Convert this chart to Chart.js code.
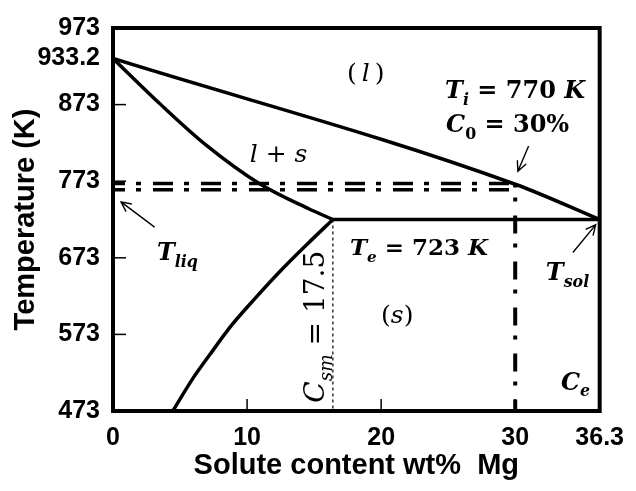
<!DOCTYPE html>
<html><head><meta charset="utf-8">
<script src="https://cdn.jsdelivr.net/npm/chart.js@4/dist/chart.umd.min.js"></script>
<style>html,body{margin:0;padding:0;background:#fff}</style>
</head><body>
<canvas id="c" width="636" height="491"></canvas>
<script>
// ---- data (wt% Mg, temperature K) ----
const xTickValues = [0, 10, 20, 30, 36.3];
const yTickValues = [473, 573, 673, 773, 873, 933.2, 973];
const liquidus = [[0, 933.2], [30, 769], [36.3, 723]];
const solidus = [[0, 933.2], [3.5, 874], [6.95, 820], [10.9, 770], [14.6, 737], [16.4, 723]];
const solvus = [[4.46, 473], [5.9, 514], [7.2, 546], [8.85, 585], [10.55, 619], [12.5, 656], [14.44, 690], [16.4, 723]];
const eutectic = [[16.4, 723], [36.3, 723]];
const csmLine = [[16.4, 723], [16.4, 473]];
const tiLine = [[0, 770], [30, 770]];
const tliqLine = [[0, 762], [30, 762]];
const c0Line = [[30, 770], [30, 473]];

// annotation texts (positions in data units)
const notes = [
  {x: 18.85, y: 916, segs: [['(', 'n'], ['\u2009l\u2009', 'v'], [')', 'n']], size: 25, bold: false, align: 'center'},
  {x: 24.77, y: 893, segs: [['T', 'v'], ['i', 's'], [' = ', 'n'], ['770', 'n'], [' ', 'n'], ['K', 'v']], size: 24, bold: true, align: 'left'},
  {x: 24.84, y: 848, segs: [['C', 'v'], ['0', 'sn'], [' = ', 'n'], ['30%', 'n']], size: 24, bold: true, align: 'left'},
  {x: 12.35, y: 810, segs: [['l', 'v'], [' + ', 'n'], ['s', 'v']], size: 25, bold: false, align: 'center'},
  {x: 17.67, y: 687, segs: [['T', 'v'], ['e', 's'], [' = ', 'n'], ['723', 'n'], [' ', 'n'], ['K', 'v']], size: 23, bold: true, align: 'left'},
  {x: 21.2, y: 600, segs: [['(', 'n'], ['s', 'v'], [')', 'n']], size: 25, bold: false, align: 'center'},
  {x: 33.9, y: 655, segs: [['T', 'v'], ['sol', 's']], size: 24, bold: true, align: 'center'},
  {x: 34.5, y: 512, segs: [['C', 'v'], ['e', 's']], size: 24, bold: true, align: 'center'},
  {x: 4.8, y: 681, segs: [['T', 'v'], ['liq', 's']], size: 24, bold: true, align: 'center'},
  {x: 15.0, y: 583, segs: [['C', 'v'], ['sm', 's'], [' = ', 'n'], ['17.5', 'n']], size: 28, bold: false, align: 'center', rot: -Math.PI / 2}
];
const arrows = [
  {from: [3.1, 713], to: [0.6, 746]},
  {from: [31.0, 819], to: [30.2, 786]},
  {from: [34.3, 680], to: [36.0, 716]}
];

const pts = a => a.map(([x, y]) => ({x, y}));
const solid = (d, extra) => Object.assign({data: pts(d), showLine: true, pointRadius: 0, borderColor: '#000', borderWidth: 3.5, fill: false}, extra || {});

function fontStr(italic, bold, size) {
  return (italic ? 'italic ' : '') + (bold ? 'bold ' : '') + size + 'px "DejaVu Serif"';
}
function drawRich(ctx, item, cx, cy) {
  const parts = item.segs.map(([t, k]) => {
    const sub = k === 's' || k === 'sn';
    const size = sub ? item.size * 0.66 : item.size;
    const italic = k === 'v' || k === 's';
    ctx.font = fontStr(italic, item.bold, size);
    return {t, f: ctx.font, w: ctx.measureText(t).width, dy: sub ? item.size * 0.28 : 0};
  });
  const total = parts.reduce((s, p) => s + p.w, 0);
  let x0 = item.align === 'left' ? 0 : -total / 2;
  ctx.save();
  ctx.translate(cx, cy);
  if (item.rot) ctx.rotate(item.rot);
  ctx.textBaseline = 'alphabetic';
  ctx.textAlign = 'left';
  ctx.fillStyle = '#000';
  const base = item.size * 0.36;
  parts.forEach(p => { ctx.font = p.f; ctx.fillText(p.t, x0, base + p.dy); x0 += p.w; });
  ctx.restore();
}

const innerX = xTickValues.filter(v => v > 0 && v < 36.3);
const innerY = yTickValues.filter(v => v > 473 && v < 930);

const decor = {
  id: 'decor',
  afterDatasetsDraw(chart) {
    const {ctx, chartArea: a, scales: {x, y}} = chart;
    ctx.save();
    ctx.strokeStyle = '#000';
    ctx.lineWidth = 1.5;
    innerY.forEach(v => { const py = y.getPixelForValue(v); ctx.beginPath(); ctx.moveTo(a.left, py); ctx.lineTo(a.left + 13, py); ctx.stroke(); });
    innerX.forEach(v => { const px = x.getPixelForValue(v); ctx.beginPath(); ctx.moveTo(px, a.bottom); ctx.lineTo(px, a.bottom - 12); ctx.stroke(); });
    ctx.lineWidth = 4;
    ctx.strokeRect(a.left, a.top, a.right - a.left, a.bottom - a.top);
    // arrows
    ctx.lineWidth = 1.4;
    arrows.forEach(ar => {
      const x1 = x.getPixelForValue(ar.from[0]), y1 = y.getPixelForValue(ar.from[1]);
      const x2 = x.getPixelForValue(ar.to[0]), y2 = y.getPixelForValue(ar.to[1]);
      const ang = Math.atan2(y2 - y1, x2 - x1), L = 11, s = 0.45;
      ctx.beginPath();
      ctx.moveTo(x1, y1); ctx.lineTo(x2, y2);
      ctx.moveTo(x2 - L * Math.cos(ang - s), y2 - L * Math.sin(ang - s));
      ctx.lineTo(x2, y2);
      ctx.lineTo(x2 - L * Math.cos(ang + s), y2 - L * Math.sin(ang + s));
      ctx.stroke();
    });
    notes.forEach(n => drawRich(ctx, n, x.getPixelForValue(n.x), y.getPixelForValue(n.y)));
    ctx.restore();
  }
};

const tickFont = {family: '"Liberation Sans", Arial, sans-serif', weight: 'bold', size: 25};
new Chart(document.getElementById('c'), {
  type: 'scatter',
  data: {datasets: [
    solid(liquidus, {cubicInterpolationMode: 'monotone'}),
    solid(solidus, {cubicInterpolationMode: 'monotone'}),
    solid(solvus, {cubicInterpolationMode: 'monotone'}),
    solid(eutectic),
    solid(csmLine, {borderWidth: 1.2, borderDash: [3, 3]}),
    solid(tiLine, {borderWidth: 3.5, borderDash: [20, 11, 5, 12], borderDashOffset: 8}),
    solid(tliqLine, {borderWidth: 3.5, borderDash: [20, 11, 5, 12], borderDashOffset: 8}),
    solid(c0Line, {borderWidth: 4, borderDash: [18, 10, 4, 14], borderDashOffset: 14})
  ]},
  options: {
    responsive: false,
    animation: false,
    layout: {padding: {top: 24, right: 32, left: 0, bottom: 0}},
    plugins: {legend: {display: false}, tooltip: {enabled: false}},
    scales: {
      x: {
        type: 'linear', min: 0, max: 36.3,
        afterBuildTicks: s => { s.ticks = xTickValues.map(v => ({value: v})); },
        afterFit: s => { s.height = 80; },
        grid: {display: false, drawTicks: false},
        border: {display: false},
        ticks: {font: tickFont, color: '#000', padding: 12, maxRotation: 0, autoSkip: false, callback: v => String(v)},
        title: {display: true, text: 'Solute content wt%  Mg', color: '#000',
          font: {family: '"Liberation Sans", Arial, sans-serif', weight: 'bold', size: 29, lineHeight: 1},
          padding: {top: 0, bottom: 11}}
      },
      y: {
        type: 'linear', min: 473, max: 973,
        afterBuildTicks: s => { s.ticks = yTickValues.map(v => ({value: v})); },
        afterFit: s => { s.width = 113; },
        grid: {display: false, drawTicks: false},
        border: {display: false},
        ticks: {font: tickFont, color: '#000', padding: 13, autoSkip: false, callback: v => String(v)},
        title: {display: true, text: 'Temperature (K)', color: '#000',
          font: {family: '"Liberation Sans", Arial, sans-serif', weight: 'bold', size: 29, lineHeight: 1},
          padding: {top: 11, bottom: 0}}
      }
    }
  },
  plugins: [decor]
});
</script>
</body></html>
